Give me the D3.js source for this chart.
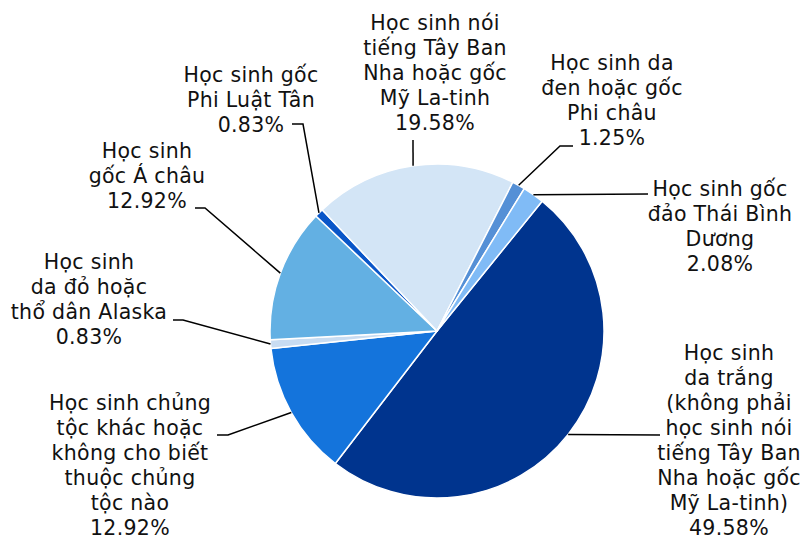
<!DOCTYPE html>
<html>
<head>
<meta charset="utf-8">
<script src="https://cdn.jsdelivr.net/npm/d3@7"></script>
<style>
  body { margin: 0; background: #fff; }
  text { font-family: Verdana, "DejaVu Sans", sans-serif; font-size: 20.5px; letter-spacing: 0.3px; fill: #111; }
</style>
</head>
<body>
<div id="chart"></div>
<script>
// data (clockwise from the white slice)
const categories = [
  'Học sinh da trắng (không phải học sinh nói tiếng Tây Ban Nha hoặc gốc Mỹ La-tinh)',
  'Học sinh chủng tộc khác hoặc không cho biết thuộc chủng tộc nào',
  'Học sinh da đỏ hoặc thổ dân Alaska',
  'Học sinh gốc Á châu',
  'Học sinh gốc Phi Luật Tân',
  'Học sinh nói tiếng Tây Ban Nha hoặc gốc Mỹ La-tinh',
  'Học sinh da đen hoặc gốc Phi châu',
  'Học sinh gốc đảo Thái Bình Dương'
]
const values = [49.58, 12.92, 0.83, 12.92, 0.83, 19.58, 1.25, 2.08]
const colors = ['#00348e', '#1474dc', '#c8dcf2', '#63b0e3', '#0a56c8', '#d3e5f6', '#5590d6', '#80bbf6']
const labelLines = [
  ['Học sinh', 'da trắng', '(không phải', 'học sinh nói', 'tiếng Tây Ban', 'Nha hoặc gốc', 'Mỹ La-tinh)'],
  ['Học sinh chủng', 'tộc khác hoặc', 'không cho biết', 'thuộc chủng', 'tộc nào'],
  ['Học sinh', 'da đỏ hoặc', 'thổ dân Alaska'],
  ['Học sinh', 'gốc Á châu'],
  ['Học sinh gốc', 'Phi Luật Tân'],
  ['Học sinh nói', 'tiếng Tây Ban', 'Nha hoặc gốc', 'Mỹ La-tinh'],
  ['Học sinh da', 'đen hoặc gốc', 'Phi châu'],
  ['Học sinh gốc', 'đảo Thái Bình', 'Dương']
]

// label layout: text centre, first line middle, leader points after the slice edge
const labelLayout = [
  { x: 729, y: 353, leader: [[660, 435]] },
  { x: 130, y: 403, leader: [[228, 435], [217, 435]] },
  { x: 89, y: 262, leader: [[183, 320], [173, 320]] },
  { x: 147, y: 151, leader: [[205, 208], [195, 208]] },
  { x: 251, y: 75, leader: [[303, 124], [292, 124]] },
  { x: 435, y: 23, leader: [[413, 140]] },
  { x: 612, y: 63, leader: [[560, 146], [573, 146]] },
  { x: 720, y: 189, leader: [[648, 194]] }
]

const width = 805,
  height = 541,
  cx = 437,
  cy = 331,
  radius = 167,
  lineH = 25

const svg = d3.select('#chart')
  .append('svg')
    .attr('width', width)
    .attr('height', height)

const pie = d3.pie()
  .sort(null)
  .value(d => d)
  .startAngle(39 * Math.PI / 180)
  .endAngle((39 + 360) * Math.PI / 180)

const arcs = pie(values)

const arc = d3.arc().innerRadius(0).outerRadius(radius)

const g = svg.append('g')
  .attr('transform', `translate(${cx}, ${cy})`)

g.selectAll('path')
  .data(arcs)
  .enter()
  .append('path')
    .attr('d', arc)
    .attr('fill', (d, i) => colors[i])
    .attr('stroke', '#fff')
    .attr('stroke-width', 1.5)
    .attr('stroke-linejoin', 'round')

// leader lines
const line = d3.line()
svg.selectAll('.leader')
  .data(arcs)
  .enter()
  .append('path')
    .attr('class', 'leader')
    .attr('fill', 'none')
    .attr('stroke', '#000')
    .attr('stroke-width', 1.5)
    .attr('d', (d, i) => {
      const mid = (d.startAngle + d.endAngle) / 2
      const start = [cx + radius * Math.sin(mid), cy - radius * Math.cos(mid)]
      return line([start, ...labelLayout[i].leader])
    })

// labels
const labels = svg.selectAll('.label')
  .data(arcs)
  .enter()
  .append('text')
    .attr('class', 'label')
    .attr('text-anchor', 'middle')

labels.each(function (d, i) {
  const t = d3.select(this)
  const lay = labelLayout[i]
  const lines = labelLines[i].concat([values[i].toFixed(2) + '%'])
  lines.forEach((s, k) => {
    t.append('tspan')
      .attr('x', lay.x)
      .attr('y', lay.y + k * lineH + 7)
      .text(s)
  })
})
</script>
</body>
</html>
